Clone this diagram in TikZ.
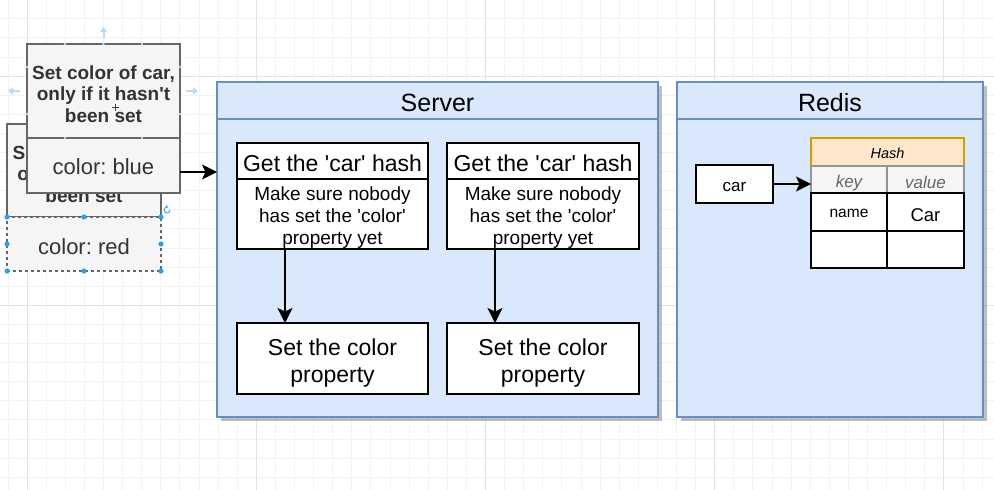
\documentclass[tikz,border=0pt]{standalone}
\usepackage{fontspec}
\setmainfont{Liberation Sans}
\usetikzlibrary{arrows.meta,calc}
\definecolor{contfill}{HTML}{DAE8FC}
\definecolor{contdraw}{HTML}{6C8EBF}
\definecolor{hashfill}{HTML}{FFE6CC}
\definecolor{hashdraw}{HTML}{D79B00}
\definecolor{greyfill}{HTML}{F5F5F5}
\definecolor{greydraw}{HTML}{666666}
\definecolor{greytext}{HTML}{333333}
\definecolor{keytext}{HTML}{666666}
\definecolor{selblue}{HTML}{2E9FEA}
\definecolor{hintblue}{HTML}{B9DCF5}
\definecolor{gridminor}{HTML}{F2F2F2}
\definecolor{gridmajor}{HTML}{E3E3E3}
\newcommand\fsz[2]{\fontsize{#1pt}{#2pt}\selectfont}
\newcommand\q{\textquotesingle}
\newcommand\dn[2]{\raisebox{-#1pt}[\height][\depth]{#2}}
\frenchspacing
\begin{document}
\begin{tikzpicture}[x=1pt,y=-1pt,
  rect/.style={rectangle, inner sep=0pt, outer sep=0pt, anchor=north west},
  container/.style={rect, fill=contfill, draw=contdraw, line width=1.5pt},
  wbox/.style={rect, fill=white, draw=black, line width=1.5pt},
  gbox/.style={rect, fill=greyfill, draw=greydraw, line width=1.7pt, text=greytext},
  txt/.style={inner sep=0pt, align=center},
  arr/.style={draw=black, line width=1.6pt, -{Stealth[length=15pt,width=15pt,inset=3.5pt]}},
  hint/.style={draw=hintblue, line width=2pt, -{Triangle[length=5pt,width=7pt]}}
]
\useasboundingbox (0,0) rectangle (994,490);
\fill[white] (0,0) rectangle (994,490);
% grid
\foreach \i in {0,...,52} \draw[gridminor, line width=0.8pt] ({7.9+19.1*\i},0) -- ++(0,490);
\foreach \i in {0,...,26} \draw[gridminor, line width=0.8pt] (0,{-0.4+19.1*\i}) -- ++(994,0);
\foreach \i in {0,...,4} \draw[gridmajor, line width=0.9pt] ({27+229.2*\i},0) -- ++(0,490);
\foreach \i in {0,1} \draw[gridmajor, line width=0.9pt] (0,{76+229.2*\i}) -- ++(994,0);

% shadows of containers
\fill[black, opacity=0.25] (220.5,85.5) rectangle (661.5,420.5);
\fill[black, opacity=0.25] (680.5,85.5) rectangle (986.5,420.5);

% Server container
\node[container, minimum width=441pt, minimum height=335pt] (server) at (217,82) {};
\node[container, minimum width=441pt, minimum height=37pt, font=\fsz{25}{30}] (serverhead) at (217,82) {\dn{2}{Server}};
% Redis container
\node[container, minimum width=306pt, minimum height=335pt] (redis) at (677,82) {};
\node[container, minimum width=306pt, minimum height=37pt, font=\fsz{25}{30}] (redishead) at (677,82) {\dn{2}{Redis}};

% server steps
\node[wbox, minimum width=191pt, minimum height=36pt, font=\fsz{23}{27}] (b1head) at (237,143) {\dn{2}{Get the \q car\q{} hash}};
\node[wbox, minimum width=191pt, minimum height=70pt] (b1body) at (237,179) {};
\node[txt, font=\fsz{19}{22}] (b1text) at (332.5,218) {Make sure nobody\\has set the \q color\q\\property yet};
\node[wbox, minimum width=192pt, minimum height=36pt, font=\fsz{23}{27}] (b2head) at (447,143) {\dn{2}{Get the \q car\q{} hash}};
\node[wbox, minimum width=192pt, minimum height=70pt] (b2body) at (447,179) {};
\node[txt, font=\fsz{19}{22}] (b2text) at (543,218) {Make sure nobody\\has set the \q color\q\\property yet};
\node[wbox, minimum width=191pt, minimum height=71pt] (set1) at (237,323) {};
\node[txt, font=\fsz{23}{27}] (set1text) at (332.5,363) {Set the color\\property};
\node[wbox, minimum width=192pt, minimum height=71pt] (set2) at (447,323) {};
\node[txt, font=\fsz{23}{27}] (set2text) at (543,363) {Set the color\\property};
\draw[arr] ([xshift=48pt]b1body.south west) -- ([xshift=48pt]set1.north west);
\draw[arr] ([xshift=48pt]b2body.south west) -- ([xshift=48pt]set2.north west);

% Redis content
\node[wbox, minimum width=77pt, minimum height=38pt, font=\fsz{17}{20}] (car) at (696,165) {\dn{3}{car}};
\node[rect, fill=hashfill, draw=hashdraw, line width=1.5pt, minimum width=153pt, minimum height=28pt, font=\fsz{14.5}{17}\itshape] (hashhead) at (811,138) {\dn{1}{Hash}};
\node[rect, fill=greyfill, draw=greydraw!70, line width=1.3pt, minimum width=76pt, minimum height=27pt, text=keytext, font=\fsz{17}{20}\itshape] (keycell) at (811,166) {\dn{4}{key}};
\node[rect, fill=greyfill, draw=greydraw!70, line width=1.3pt, minimum width=77pt, minimum height=27pt, text=keytext, font=\fsz{17}{20}\itshape] (valcell) at (887,166) {\dn{2.5}{value}};
\node[wbox, minimum width=76pt, minimum height=38pt, font=\fsz{15.5}{18}] (namecell) at (811,193) {\dn{1.3}{name}};
\node[wbox, minimum width=77pt, minimum height=38pt, font=\fsz{18.5}{22}] (carcell) at (887,193) {\dn{3}{Car}};
\node[wbox, minimum width=76pt, minimum height=37pt] (empty1) at (811,231) {};
\node[wbox, minimum width=77pt, minimum height=37pt] (empty2) at (887,231) {};
\draw[arr] (car.east) -- (car.east -| keycell.west);

% left: back box (selected)
\node[gbox, minimum width=154pt, minimum height=93pt] (backtop) at (7,124) {};
\node[txt, text=greytext, font=\fsz{19}{21.5}\bfseries] (backtext) at (84,174) {Set color of car,\\only if it hasn\q t\\been set};
\node[gbox, line width=1.2pt, dashed, minimum width=154pt, minimum height=54pt, font=\fsz{22}{26}] (backbot) at (7,217) {\dn{2.3}{color: red}};

% left: front box (dragged)
\node[gbox, minimum width=153pt, minimum height=94pt] (fronttop) at (27,44) {};
\node[txt, text=greytext, font=\fsz{19}{21.5}\bfseries] (fronttext) at (103.5,94) {Set color of car,\\only if it hasn\q t\\been set};
\node[gbox, minimum width=153pt, minimum height=55pt, font=\fsz{22}{26}] (frontbot) at (27,138) {\dn{1.5}{color: blue}};
\draw[arr] ([yshift=-6.5pt]frontbot.east) -- ([yshift=-6.5pt]frontbot.east -| server.west);

% selection handles on the back box
\foreach \a in {north west,north,north east,west,east,south west,south,south east}
  \fill[selblue] (backbot.\a) circle[radius=2.6pt];
\draw[selblue, line width=0.9pt, -{Triangle[length=2pt,width=3pt]}] (167,210) ++(3,0) arc[start angle=0, end angle=290, radius=3];

% hover hints on the front box
\draw[hint] ([yshift=6pt]fronttop.north) -- ++(0,-11);
\draw[hint] ([xshift=-7pt]fronttop.west) -- ++(-12,0);
\draw[hint] ([xshift=6pt]fronttop.east) -- ++(12,0);
\foreach \p in {(65,44),(103.5,44),(142,44),(65,138),(142,138),(27,67),(27,114),(180,67),(180,114)}
  \fill[hintblue] \p circle[radius=1.3pt];
% cursor
\draw[black!75, line width=0.8pt] (111.5,107) -- (118.5,107) (115,103.5) -- (115,110.5);
\end{tikzpicture}
\end{document}
